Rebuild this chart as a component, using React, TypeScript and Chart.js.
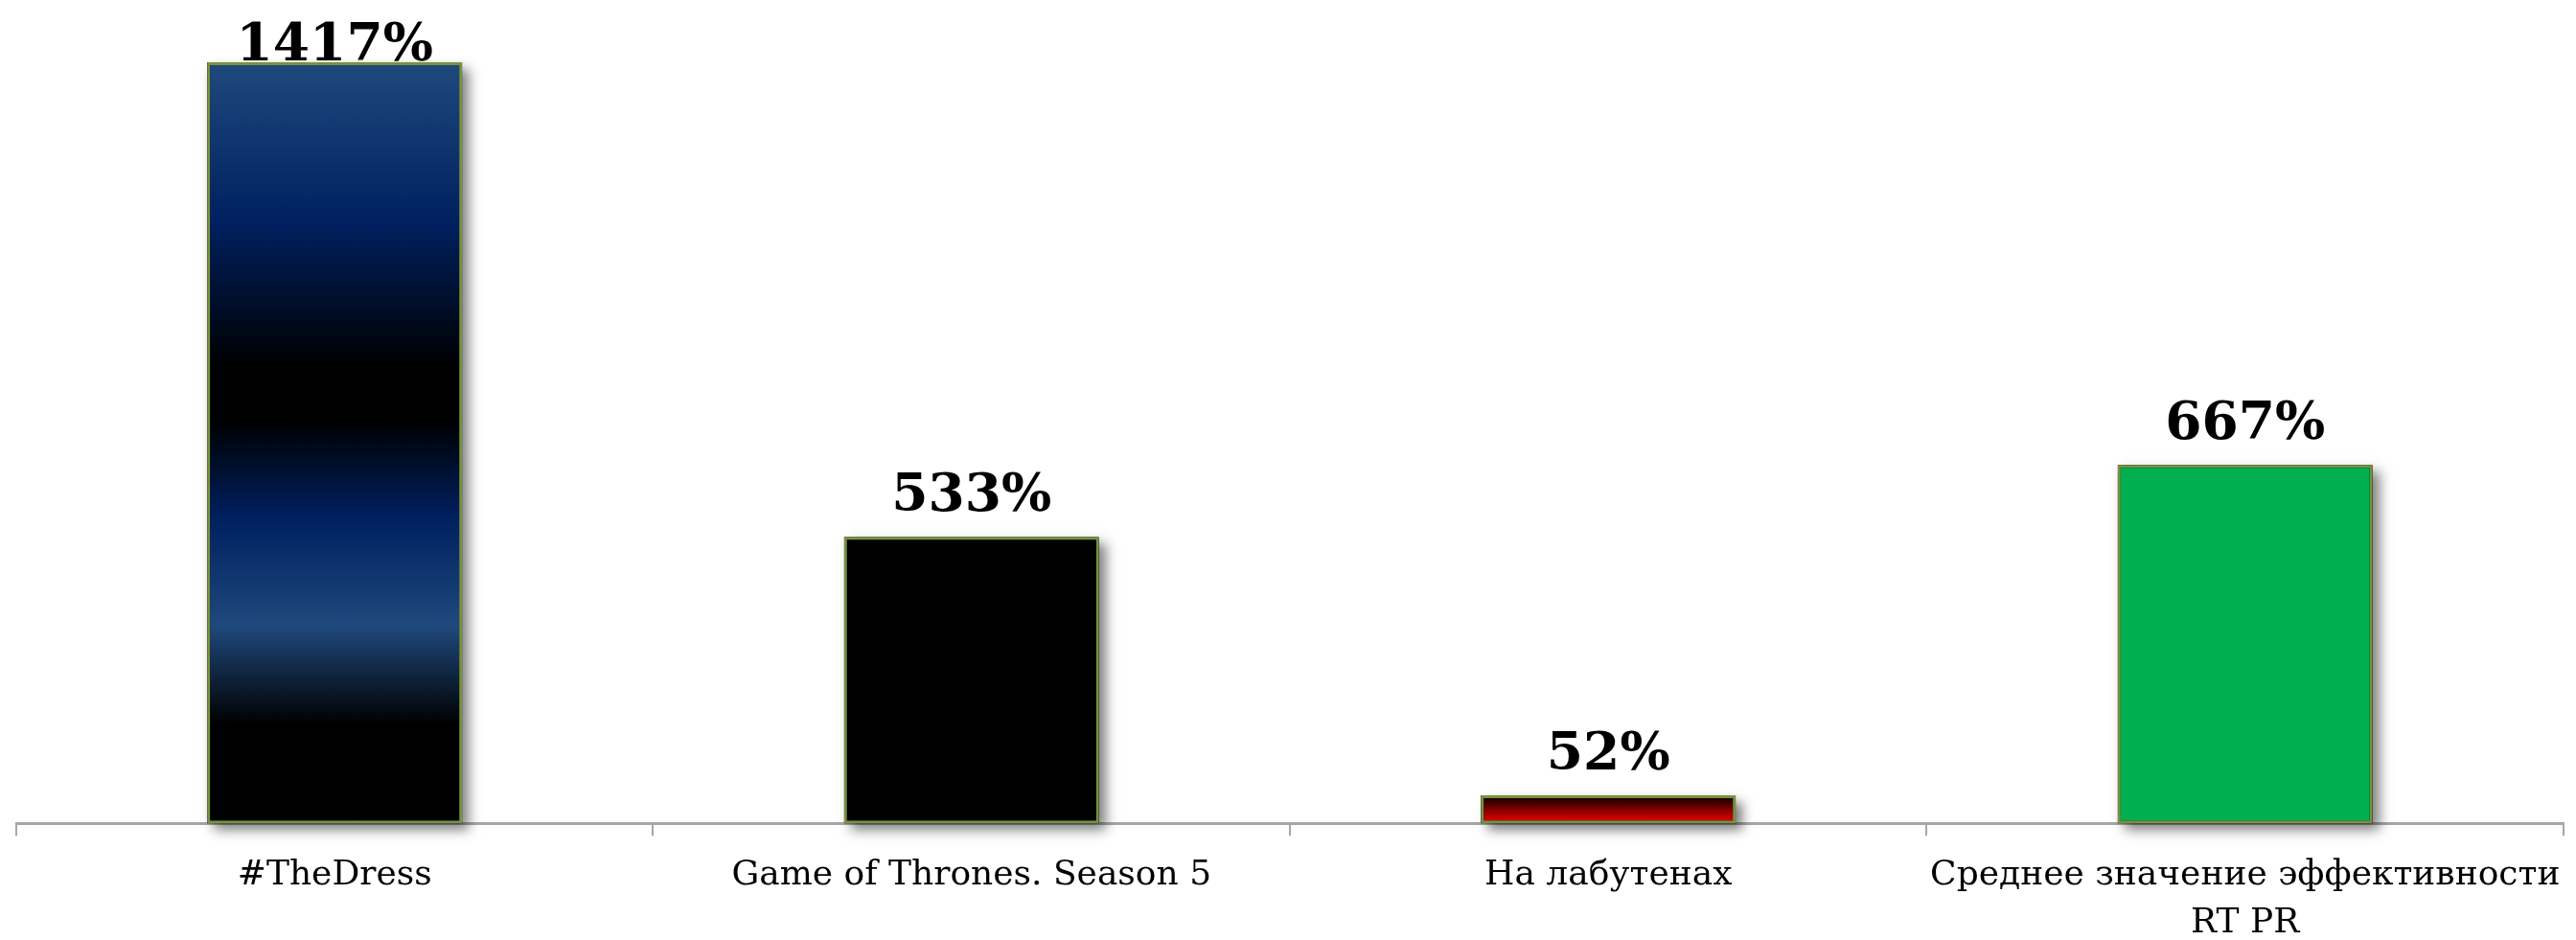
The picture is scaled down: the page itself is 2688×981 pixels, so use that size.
import React, { useEffect, useRef } from "react";
import { Chart, registerables } from "chart.js";

Chart.register(...registerables);

const categories: (string | string[])[] = [
  "#TheDress",
  "Game of Thrones. Season 5",
  "На лабутенах",
  ["Среднее значение эффективности", "RT PR"],
];
const values: number[] = [1417, 533, 52, 667];
const valueLabels: string[] = ["1417%", "533%", "52%", "667%"];

const W = 2688;
const H = 1005;

export default function App() {
  const ref = useRef<HTMLCanvasElement | null>(null);

  useEffect(() => {
    document.body.style.margin = "0";
    document.body.style.overflow = "hidden";
    const canvas = ref.current!;
    const ctx0 = canvas.getContext("2d")!;

    const barFill = (c: any) => {
      const chart = c.chart;
      const ys = chart.scales && chart.scales.y;
      const i = c.dataIndex;
      if (!ys || i === undefined) return "#000";
      const top = ys.getPixelForValue(values[i]);
      const bot = ys.getPixelForValue(0);
      if (!isFinite(top) || !isFinite(bot)) return "#000";
      if (i === 0) {
        const g = ctx0.createLinearGradient(0, top, 0, bot);
        g.addColorStop(0, "#1F497D");
        g.addColorStop(0.21, "#002060");
        g.addColorStop(0.4, "#000000");
        g.addColorStop(0.47, "#000000");
        g.addColorStop(0.6, "#002060");
        g.addColorStop(0.74, "#1F497D");
        g.addColorStop(0.87, "#000000");
        g.addColorStop(1, "#000000");
        return g;
      }
      if (i === 1) return "#000000";
      if (i === 2) {
        const g = ctx0.createLinearGradient(0, top, 0, bot);
        g.addColorStop(0, "#000000");
        g.addColorStop(0.5, "#800000");
        g.addColorStop(1, "#F00000");
        return g;
      }
      return "#00B050";
    };

    const shadowPlugin = {
      id: "barShadow",
      beforeDatasetsDraw(chart: any) {
        const ctx = chart.ctx;
        const meta = chart.getDatasetMeta(0);
        ctx.save();
        ctx.shadowColor = "rgba(0,0,0,0.5)";
        ctx.shadowBlur = 12;
        ctx.shadowOffsetX = 7;
        ctx.shadowOffsetY = 7;
        ctx.fillStyle = "#000";
        meta.data.forEach((bar: any) => {
          const { x, y, base, width } = bar.getProps(["x", "y", "base", "width"], true);
          ctx.fillRect(x - width / 2, y, width, base - y);
        });
        ctx.restore();
      },
    };

    const labelPlugin = {
      id: "valueLabels",
      afterDraw(chart: any) {
        const ctx = chart.ctx;
        const meta = chart.getDatasetMeta(0);
        ctx.save();
        ctx.font = "bold 55px 'DejaVu Serif'";
        ctx.fillStyle = "#000";
        ctx.textAlign = "center";
        ctx.textBaseline = "alphabetic";
        meta.data.forEach((bar: any, i: number) => {
          const yb = Math.max(bar.y - 27, 63);
          ctx.fillText(valueLabels[i], bar.x, yb);
        });
        ctx.restore();
      },
    };

    const chart = new Chart(canvas, {
      type: "bar",
      data: {
        labels: categories as any,
        datasets: [
          {
            data: values,
            backgroundColor: barFill as any,
            borderColor: "#77933C",
            borderWidth: 3,
            borderSkipped: false,
            barPercentage: 0.4,
            categoryPercentage: 1,
          },
        ],
      },
      options: {
        animation: false,
        responsive: false,
        devicePixelRatio: 1,
        layout: { padding: { left: 17, right: 5, top: 5, bottom: 0 } },
        plugins: { legend: { display: false }, tooltip: { enabled: false } },
        scales: {
          y: { display: false, min: 0, max: 1524 },
          x: {
            offset: true,
            grid: {
              display: true,
              offset: true,
              drawOnChartArea: false,
              drawTicks: true,
              tickLength: 13,
              color: "#A6A6A6",
              lineWidth: 2,
            },
            border: { display: true, color: "#A6A6A6", width: 3 },
            ticks: {
              autoSkip: false,
              maxRotation: 0,
              minRotation: 0,
              padding: 16,
              color: "#000",
              font: { family: "'DejaVu Serif'", size: 36, lineHeight: 1.4 },
            },
          },
        },
      },
      plugins: [shadowPlugin, labelPlugin],
    });
    return () => chart.destroy();
  }, []);

  return (
    <div style={{ position: "fixed", left: 0, top: 0, width: W, height: 981, overflow: "hidden", background: "#fff" }}>
      <canvas ref={ref} width={W} height={H} style={{ width: W, height: H, display: "block" }} />
    </div>
  );
}
